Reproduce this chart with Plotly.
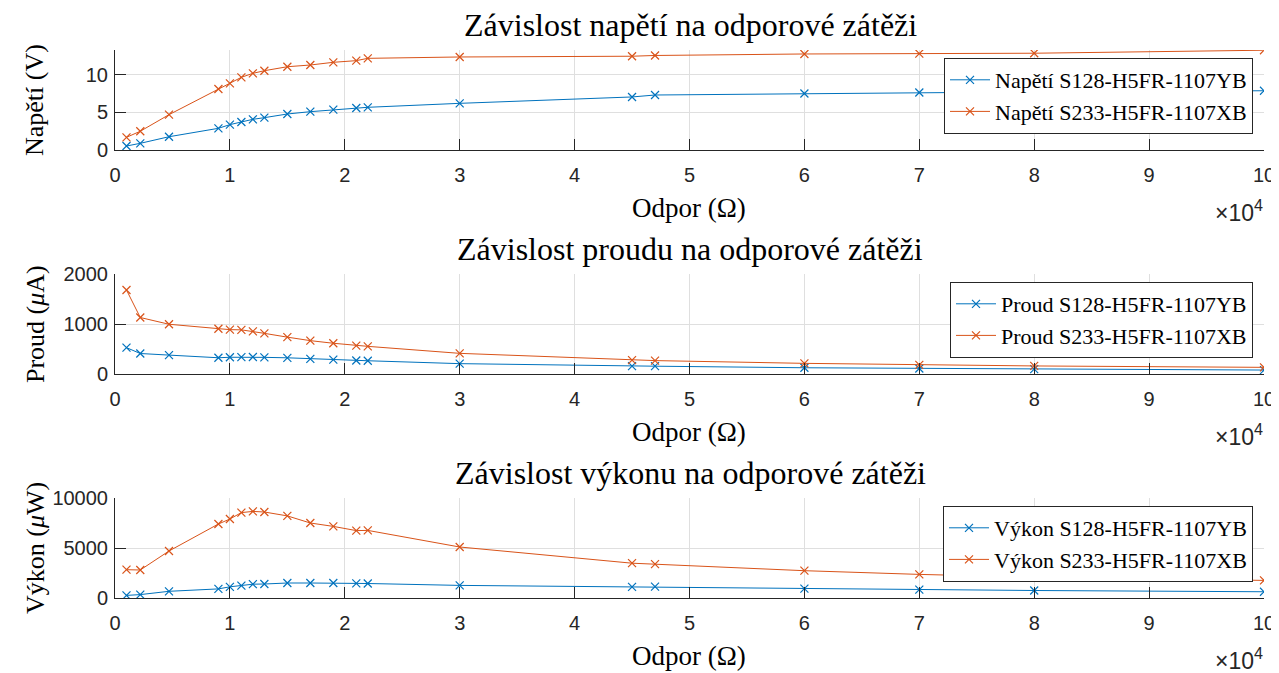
import plotly.graph_objects as go

# ---------------- data ----------------
R = [1000, 2200, 4700, 9000, 10000, 11000, 12000, 13000, 15000, 17000,
     19000, 21000, 22000, 30000, 45000, 47000, 60000, 70000, 80000, 100000]

U_YB = [0.53, 0.89, 1.77, 2.89, 3.38, 3.73, 4.09, 4.31, 4.80, 5.11,
        5.38, 5.60, 5.69, 6.22, 7.07, 7.33, 7.53, 7.67, 7.75, 7.90]
U_XB = [1.69, 2.50, 4.71, 8.13, 8.89, 9.69, 10.22, 10.57, 11.10, 11.33,
        11.69, 11.91, 12.22, 12.40, 12.50, 12.60, 12.80, 12.85, 12.90, 13.30]

I_YB = [527, 410, 378, 325, 335, 336, 340, 333, 324, 304,
        288, 270, 265, 207, 157, 156, 125, 110, 97, 79]
I_XB = [1680, 1130, 995, 905, 887, 883, 853, 813, 737, 667,
        615, 567, 553, 413, 278, 268, 213, 184, 161, 133]

P_YB = [260, 340, 670, 910, 1120, 1230, 1380, 1400, 1500, 1500,
        1500, 1460, 1450, 1260, 1110, 1140, 945, 840, 750, 624]
P_XB = [2830, 2800, 4700, 7400, 7900, 8540, 8660, 8600, 8210, 7500,
        7160, 6740, 6760, 5100, 3480, 3380, 2730, 2360, 2080, 1760]

x_tickvals = [0, 10000, 20000, 30000, 40000, 50000, 60000, 70000, 80000, 90000, 100000]
x_ticktext = ["0", "1", "2", "3", "4", "5", "6", "7", "8", "9", "10"]

titles = ["Závislost napětí na odporové zátěži",
          "Závislost proudu na odporové zátěži",
          "Závislost výkonu na odporové zátěži"]
ylabels = ["Napětí (V)", "Proud (<i>μ</i>A)", "Výkon (<i>μ</i>W)"]
names_YB = ["Napětí S128-H5FR-1107YB", "Proud S128-H5FR-1107YB", "Výkon S128-H5FR-1107YB"]
names_XB = ["Napětí S233-H5FR-1107XB", "Proud S233-H5FR-1107XB", "Výkon S233-H5FR-1107XB"]
y_ranges = [[0, 13.33], [0, 2000], [0, 10000]]
y_tickvals = [[0, 5, 10], [0, 1000, 2000], [0, 5000, 10000]]
y_ticktext = [["0", "5", "10"], ["0", "1000", "2000"], ["0", "5000", "10000"]]

# ---------------- layout geometry (pixels in the 1279x673 window) ----------------
OFF = 8                      # page body margin offsets the figure
W, H = 1279 - OFF, 673 - OFF
def fx(p): return (p - OFF) / W
def fy(p): return 1 - (p - OFF) / H

BLUE = "#0072BD"
ORANGE = "#D95319"
AXC = "#262626"
GRIDC = "#dfdfdf"
SERIF = "Liberation Serif"
SANS = "Liberation Sans"

plot_left, plot_right = 115, 1264
tops = [50, 274, 498]
bottoms = [150, 374, 598]
legend_tops = [58, 282, 506]

fig = go.Figure()
series = [(U_YB, U_XB), (I_YB, I_XB), (P_YB, P_XB)]
for i, (yb, xb) in enumerate(series):
    sfx = "" if i == 0 else str(i + 1)
    for vals, name, col in [(yb, names_YB[i], BLUE), (xb, names_XB[i], ORANGE)]:
        fig.add_trace(go.Scatter(
            x=R, y=vals, name=name, mode="lines+markers",
            line=dict(color=col, width=1),
            marker=dict(symbol="x-thin", size=8, line=dict(color=col, width=1.2)),
            xaxis="x" + sfx, yaxis="y" + sfx, legend="legend" + sfx,
        ))

layout = dict(
    width=W, height=H, margin=dict(l=0, r=0, t=0, b=0, pad=0, autoexpand=False),
    paper_bgcolor="white", plot_bgcolor="white", showlegend=True,
)
annotations = []
for i in range(3):
    sfx = "" if i == 0 else str(i + 1)
    layout["xaxis" + sfx] = dict(
        domain=[fx(plot_left), fx(plot_right)], anchor="y" + sfx,
        range=[0, 100000], tickvals=x_tickvals, ticktext=x_ticktext,
        ticks="inside", ticklen=11, tickcolor=AXC, tickwidth=1,
        showline=True, linecolor=AXC, linewidth=1, mirror=False,
        showgrid=True, gridcolor=GRIDC, gridwidth=1, zeroline=False,
        tickfont=dict(family=SANS, size=20, color=AXC), ticklabelstandoff=7,
        automargin=False,
    )
    layout["yaxis" + sfx] = dict(
        domain=[fy(bottoms[i]), fy(tops[i])], anchor="x" + sfx,
        range=y_ranges[i], tickvals=y_tickvals[i], ticktext=y_ticktext[i],
        ticks="inside", ticklen=11, tickcolor=AXC, tickwidth=1,
        showline=True, linecolor=AXC, linewidth=1, mirror=False,
        showgrid=True, gridcolor=GRIDC, gridwidth=1, zeroline=False,
        tickfont=dict(family=SANS, size=20, color=AXC), ticklabelstandoff=2,
        automargin=False,
    )
    layout["legend" + sfx] = dict(
        x=fx(1253), xanchor="right", y=fy(legend_tops[i]), yanchor="top",
        bgcolor="white", bordercolor=AXC, borderwidth=1,
        font=dict(family=SERIF, size=22, color="black"),
        itemwidth=40, tracegroupgap=0,
    )
    # title
    annotations.append(dict(text=titles[i], x=fx(690), y=fy(tops[i] - 25),
                            xref="paper", yref="paper", showarrow=False,
                            xanchor="center", yanchor="middle",
                            font=dict(family=SERIF, size=32, color="black")))
    # x label
    annotations.append(dict(text="Odpor (Ω)", x=fx(689), y=fy(bottoms[i] + 58),
                            xref="paper", yref="paper", showarrow=False,
                            xanchor="center", yanchor="middle",
                            font=dict(family=SERIF, size=27, color="black")))
    # exponent
    annotations.append(dict(text="×10<sup>4</sup>", x=fx(1265), y=fy(bottoms[i] + 61),
                            xref="paper", yref="paper", showarrow=False,
                            xanchor="right", yanchor="middle",
                            font=dict(family=SANS, size=23, color=AXC)))
    # y label
    annotations.append(dict(text=ylabels[i], x=fx(35), y=fy((tops[i] + bottoms[i]) / 2),
                            xref="paper", yref="paper", showarrow=False, textangle=-90,
                            xanchor="center", yanchor="middle",
                            font=dict(family=SERIF, size=26, color="black")))
layout["annotations"] = annotations
fig.update_layout(**layout)
fig.write_html("out.html")
